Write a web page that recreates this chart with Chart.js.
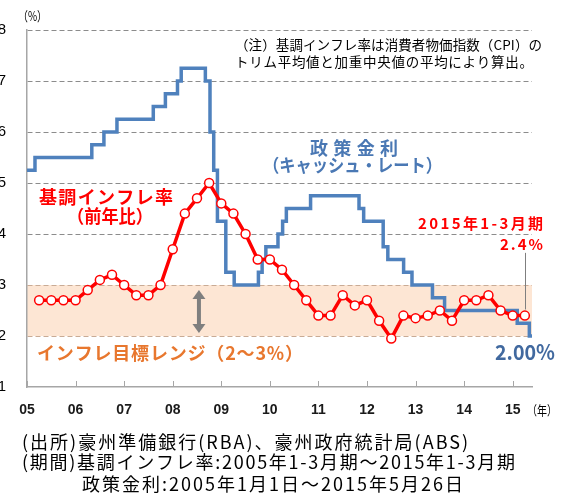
<!DOCTYPE html>
<html><head><meta charset="utf-8">
<script src="https://cdn.jsdelivr.net/npm/chart.js@4.4.1/dist/chart.umd.min.js"></script>
<style>html,body{margin:0;padding:0;background:#fff;} #wrap{width:569px;height:495px;position:relative;}</style>
</head><body><div id="wrap"><canvas id="c"></canvas></div>
<script>
// ---- data ----
const yearTicks = [2005, 2006, 2007, 2008, 2009, 2010, 2011, 2012, 2013, 2014, 2015];
const yearLabels = ['05', '06', '07', '08', '09', '10', '11', '12', '13', '14', '15'];
const yTicks = [1, 2, 3, 4, 5, 6, 7, 8];
const inflationPeriods = [
  '2005Q1','2005Q2','2005Q3','2005Q4','2006Q1','2006Q2','2006Q3','2006Q4',
  '2007Q1','2007Q2','2007Q3','2007Q4','2008Q1','2008Q2','2008Q3','2008Q4',
  '2009Q1','2009Q2','2009Q3','2009Q4','2010Q1','2010Q2','2010Q3','2010Q4',
  '2011Q1','2011Q2','2011Q3','2011Q4','2012Q1','2012Q2','2012Q3','2012Q4',
  '2013Q1','2013Q2','2013Q3','2013Q4','2014Q1','2014Q2','2014Q3','2014Q4','2015Q1'];
const inflationValues = [
  2.7, 2.7, 2.7, 2.7, 2.9, 3.1, 3.2, 3.0,
  2.8, 2.8, 3.0, 3.7, 4.4, 4.7, 5.0, 4.6,
  4.4, 4.0, 3.5, 3.5, 3.3, 3.0, 2.7, 2.4,
  2.4, 2.8, 2.6, 2.7, 2.3, 1.95, 2.4, 2.35,
  2.4, 2.5, 2.3, 2.7, 2.7, 2.8, 2.5, 2.4, 2.4];
const rateDates = ['2005-01-01','2005-03-02','2006-05-03','2006-08-02','2006-11-08','2007-08-08',
  '2007-11-07','2008-02-06','2008-03-05','2008-09-03','2008-10-08','2008-11-05','2008-12-03',
  '2009-02-04','2009-04-08','2009-10-07','2009-11-04','2009-12-02','2010-03-03','2010-04-07',
  '2010-05-05','2010-11-03','2011-11-02','2011-12-07','2012-05-02','2012-06-06','2012-10-03',
  '2012-12-05','2013-05-08','2013-08-07','2015-02-04','2015-05-06','2015-05-26'];
const rateValues = [5.25, 5.5, 5.75, 6.0, 6.25, 6.5, 6.75, 7.0, 7.25, 7.0, 6.0, 5.25, 4.25,
  3.25, 3.0, 3.25, 3.5, 3.75, 4.0, 4.25, 4.5, 4.75, 4.5, 4.25, 3.75, 3.5, 3.25,
  3.0, 2.75, 2.5, 2.25, 2.0, 2.0];
const targetRange = [2, 3];
const xStartDate = '2005-01-01';
const xEndDate = '2015-05-26';

// ---- helpers ----
function toYear(s) {
  const [y, m, d] = s.split('-').map(Number);
  const a = Date.UTC(y, 0, 1), b = Date.UTC(y + 1, 0, 1), t = Date.UTC(y, m - 1, d);
  return y + (t - a) / (b - a);
}
function quarterToYear(p) {
  const y = Number(p.slice(0, 4)), q = Number(p.slice(5));
  return y + q * 0.25;
}
const CJK = "'Noto Sans CJK JP', 'Noto Sans', sans-serif";
const LAT = "'Liberation Sans', Arial, sans-serif";

function fitText(ctx, text, x, y, w, font, color) {
  ctx.save();
  ctx.font = font; ctx.fillStyle = color; ctx.textBaseline = 'middle'; ctx.textAlign = 'left';
  try { ctx.letterSpacing = '0px'; } catch (e) {}
  const m = ctx.measureText(text).width;
  const n = [...text].length;
  if (w > m && n > 1 && ('letterSpacing' in ctx)) {
    ctx.letterSpacing = ((w - m) / (n - 1)) + 'px';
    ctx.fillText(text, x, y);
  } else {
    ctx.translate(x, y); ctx.scale(w / m, 1); ctx.fillText(text, 0, 0);
  }
  ctx.restore();
}

const inflationData = inflationPeriods.map((p, i) => ({x: quarterToYear(p), y: inflationValues[i]}));
const rateData = rateDates.map((d, i) => ({x: toYear(d), y: rateValues[i]}));

const RED = '#ff0000', BLUE = '#4f81bd', ORANGE = '#e8772e', GRAY = '#7f7f7f';

const decorPlugin = {
  id: 'decor',
  beforeDraw(chart) {
    const {ctx, chartArea: ca, scales: {y}} = chart;
    ctx.save();
    ctx.fillStyle = '#fff';
    ctx.fillRect(0, 0, chart.width, chart.height);
    const y3 = y.getPixelForValue(targetRange[1]), y2 = y.getPixelForValue(targetRange[0]);
    ctx.fillStyle = '#fde6d4';
    ctx.fillRect(ca.left, y3, ca.right - ca.left, y2 - y3);
    ctx.restore();
  },
  afterDatasetsDraw(chart) {
    const {ctx, chartArea: ca, scales: {x, y}} = chart;
    ctx.save();
    // inner tick marks on x axis
    ctx.strokeStyle = '#a6a6a6'; ctx.lineWidth = 1;
    yearTicks.forEach(v => {
      const px = Math.round(x.getPixelForValue(v)) + 0.5;
      ctx.beginPath(); ctx.moveTo(px, ca.bottom); ctx.lineTo(px, ca.bottom - 6); ctx.stroke();
    });
    // double arrow for target range
    const ax = x.getPixelForValue(2008.54);
    const aTop = y.getPixelForValue(2.9), aBot = y.getPixelForValue(2.06);
    ctx.strokeStyle = GRAY; ctx.fillStyle = GRAY; ctx.lineWidth = 4;
    ctx.beginPath(); ctx.moveTo(ax, aTop + 6); ctx.lineTo(ax, aBot - 6); ctx.stroke();
    ctx.beginPath(); ctx.moveTo(ax, aTop); ctx.lineTo(ax - 6.5, aTop + 9); ctx.lineTo(ax + 6.5, aTop + 9); ctx.closePath(); ctx.fill();
    ctx.beginPath(); ctx.moveTo(ax, aBot); ctx.lineTo(ax - 6.5, aBot - 9); ctx.lineTo(ax + 6.5, aBot - 9); ctx.closePath(); ctx.fill();
    // leader line for latest inflation
    const last = inflationData[inflationData.length - 1];
    const lx = Math.round(x.getPixelForValue(last.x)) + 0.5;
    ctx.strokeStyle = GRAY; ctx.lineWidth = 1;
    ctx.beginPath(); ctx.moveTo(lx, y.getPixelForValue(3.63)); ctx.lineTo(lx, y.getPixelForValue(last.y + 0.12)); ctx.stroke();
    ctx.restore();
  },
  afterDraw(chart) {
    const ctx = chart.ctx;
    fitText(ctx, '（%）', 18, 16, 29, '13px ' + CJK, '#000');
    fitText(ctx, '（注）基調インフレ率は消費者物価指数（CPI）の', 235, 45, 307, '13.5px ' + CJK, '#000');
    fitText(ctx, 'トリム平均値と加重中央値の平均により算出。', 235, 62, 298, '13.5px ' + CJK, '#000');
    fitText(ctx, '政策金利', 310, 148, 88, 'bold 18px ' + CJK, '#4a78b4');
    fitText(ctx, '（キャッシュ・レート）', 263, 165.5, 179, 'bold 18px ' + CJK, '#4a78b4');
    fitText(ctx, '基調インフレ率', 39, 197.5, 134, 'bold 18px ' + CJK, RED);
    fitText(ctx, '（前年比）', 67, 216.5, 86, 'bold 18px ' + CJK, RED);
    fitText(ctx, '2015年1-3月期', 418, 223, 125, 'bold 15px ' + CJK, RED);
    fitText(ctx, '2.4%', 500, 244, 43, 'bold 15px ' + CJK, RED);
    fitText(ctx, 'インフレ目標レンジ（2～3%）', 37, 353.5, 266, 'bold 18px ' + CJK, ORANGE);
    fitText(ctx, '2.00%', 495, 352, 60, 'bold 21px ' + CJK, '#41699f');
    fitText(ctx, '（年）', 527, 410, 30, '13px ' + CJK, '#000');
    fitText(ctx, '(出所)豪州準備銀行(RBA)、豪州政府統計局(ABS)', 22, 442, 446, '18px ' + CJK, '#000');
    fitText(ctx, '(期間)基調インフレ率:2005年1-3月期～2015年1-3月期', 22, 462, 493, '18px ' + CJK, '#000');
    fitText(ctx, '政策金利:2005年1月1日～2015年5月26日', 82, 484, 381, '18px ' + CJK, '#000');
  }
};

new Chart(document.getElementById('c'), {
  type: 'line',
  data: {
    datasets: [
      {
        label: '基調インフレ率（前年比）', data: inflationData,
        borderColor: RED, borderWidth: 3.5, tension: 0,
        pointRadius: 4.5, pointBorderWidth: 1.5, pointBorderColor: RED, pointBackgroundColor: '#fff'
      },
      {
        label: '政策金利（キャッシュ・レート）', data: rateData,
        borderColor: BLUE, borderWidth: 3.5, stepped: 'before', pointRadius: 0, tension: 0
      }
    ]
  },
  options: {
    responsive: true, maintainAspectRatio: false, animation: false, events: [],
    devicePixelRatio: 1,
    layout: {padding: {left: 0, right: 37, top: 29, bottom: 0}},
    plugins: {legend: {display: false}, tooltip: {enabled: false}, title: {display: false}},
    scales: {
      x: {
        type: 'linear', min: toYear(xStartDate), max: toYear(xEndDate),
        afterBuildTicks: s => { s.ticks = yearTicks.map(v => ({value: v})); },
        afterFit: s => { s.height = 108; },
        ticks: {
          callback: v => yearLabels[yearTicks.indexOf(v)] ?? '',
          font: {family: LAT, size: 14, weight: 'bold'}, color: '#1a1a1a', padding: 15,
          maxRotation: 0, autoSkip: false
        },
        grid: {display: false, drawTicks: false},
        border: {display: true, color: '#a6a6a6', width: 1.5}
      },
      y: {
        type: 'linear', min: 1, max: 8,
        afterBuildTicks: s => { s.ticks = yTicks.map(v => ({value: v})); },
        afterFit: s => { s.width = 27; },
        ticks: {font: {family: LAT, size: 15}, color: '#000', padding: 21},
        grid: {
          drawTicks: false, lineWidth: 1,
          color: c => c.tick && c.tick.value === 1 ? 'rgba(0,0,0,0)' :
            ((c.tick && (c.tick.value === targetRange[0] || c.tick.value === targetRange[1])) ? '#c9ab95' : '#8c8c8c')
        },
        border: {display: true, color: '#a6a6a6', width: 1.5, dash: [5, 3]}
      }
    }
  },
  plugins: [decorPlugin]
});
</script>
</body></html>
